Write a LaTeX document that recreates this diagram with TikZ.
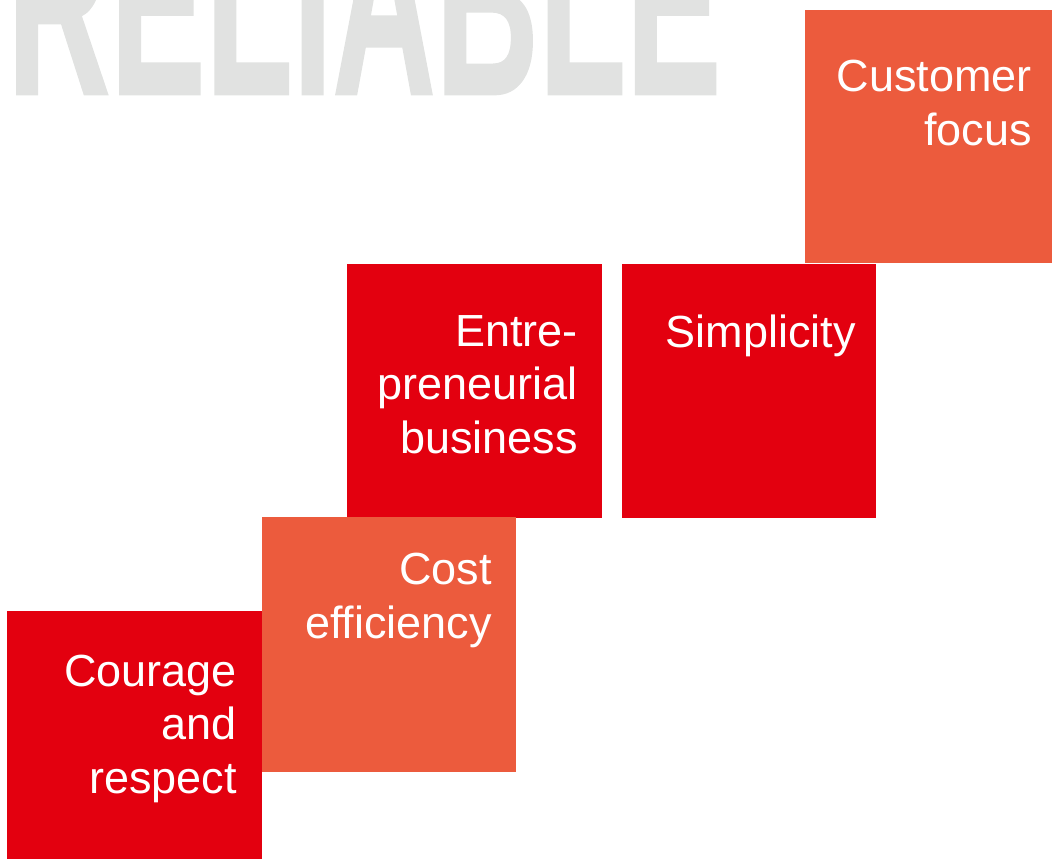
\documentclass[tikz,border=0pt]{standalone}
\usepackage{fontspec}
\setmainfont{Liberation Sans}
\newfontfamily\bigfont[FakeBold=1]{Liberation Sans Bold}
\definecolor{vred}{RGB}{227,0,15}
\definecolor{vorange}{RGB}{236,91,61}
\definecolor{vgray}{RGB}{225,226,225}
\begin{document}
\begin{tikzpicture}[x=1pt,y=-1pt,
  tile/.style={rectangle, inner sep=0, outer sep=0, anchor=north west, draw=none},
  redtile/.style={tile, fill=vred},
  orangetile/.style={tile, fill=vorange},
  label/.style={anchor=base east, inner sep=0, text=white, align=right,
    font=\fontsize{45}{53.5}\selectfont}]
\useasboundingbox (0,0) rectangle (1052,859);
\clip (0,0) rectangle (1052,859);
\node[anchor=base west, inner sep=0, text=vgray, font=\bigfont\fontsize{272}{272}\selectfont]
  (title) at (7,94) {\scalebox{0.525}[1]{RELIABLE}};
\node[orangetile, minimum width=247, minimum height=253] (cust) at (805,10) {};
\node[redtile, minimum width=255, minimum height=254] (entre) at (347,264) {};
\node[redtile, minimum width=254, minimum height=254] (simp) at (622,264) {};
\node[orangetile, minimum width=254, minimum height=255] (cost) at (262,517) {};
\node[redtile, minimum width=255, minimum height=248] (cour) at (7,611) {};
\node[label] (custt) at ([xshift=-20pt,yshift=-135pt]cust.north east) {Customer\\focus};
\node[label] (entret) at ([xshift=-24pt,yshift=-189pt]entre.north east) {Entre-\\preneurial\\business};
\node[label] (simpt) at ([xshift=-20pt,yshift=-83pt]simp.north east) {Simplicity};
\node[label] (costt) at ([xshift=-24pt,yshift=-121pt]cost.north east) {Cost\\efficiency};
\node[label] (court) at ([xshift=-25pt,yshift=-182pt]cour.north east) {Courage\\and\\respect};
\end{tikzpicture}
\end{document}
